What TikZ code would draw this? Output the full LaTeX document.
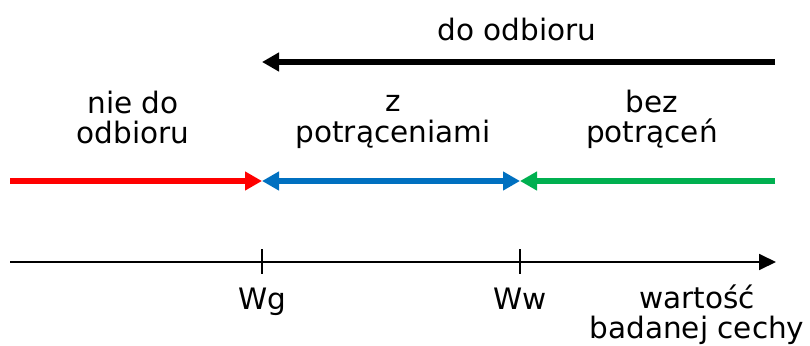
\documentclass[tikz,border=0pt]{standalone}
\usepackage{fontspec}
\setmainfont{DejaVu Sans}
\usetikzlibrary{arrows.meta}
\definecolor{myred}{RGB}{255,0,0}
\definecolor{myblue}{RGB}{0,112,192}
\definecolor{mygreen}{RGB}{0,176,80}
\tikzset{
  lbl/.style={align=center, font=\fontsize{29.5}{30}\selectfont, inner sep=0pt},
  thickarr/.style={line width=5.5pt, -{Triangle[length=17pt,width=18pt]}},
  bothtips/.style={line width=5.5pt, {Triangle[length=17pt,width=18pt]}-{Triangle[length=17pt,width=18pt]}},
  axis/.style={line width=1.8pt, -{Triangle[length=17pt,width=16pt]}},
  tick/.style={line width=1.8pt}
}
\begin{document}
\begin{tikzpicture}[x=1pt,y=-1pt]
\useasboundingbox (0,0) rectangle (810,345);
% coordinates
\coordinate (topR) at (775,62);
\coordinate (topL) at (262,62);
\coordinate (r0) at (10,181);
\coordinate (g1) at (262,181);
\coordinate (w1) at (520,181);
\coordinate (g2) at (775,181);
\coordinate (a0) at (10,262);
\coordinate (a1) at (776,262);
\coordinate (t1a) at (262,249);
\coordinate (t1b) at (262,274);
\coordinate (t2a) at (520,249);
\coordinate (t2b) at (520,274);
% texts
\node[lbl] (dood) at (517,30) {do odbioru};
\node[lbl] (nie) at (133,118) {nie do\\odbioru};
\node[lbl] (zpot) at (393,122) {z\\potrąceniami};
\node[lbl] (bez) at (652,119) {bez\\potrąceń};
\node[lbl, anchor=base] (wg) at (262,309) {Wg};
\node[lbl, anchor=base] (ww) at (520,309) {Ww};
\node[lbl] (wart) at (697,315) {wartość\\badanej cechy};
% arrows
\draw[thickarr, black] (topR) -- (topL);
\draw[thickarr, myred] (r0) -- (g1);
\draw[bothtips, myblue] (g1) -- (w1);
\draw[thickarr, mygreen] (g2) -- (w1);
\draw[axis] (a0) -- (a1);
\draw[tick] (t1a) -- (t1b);
\draw[tick] (t2a) -- (t2b);
\end{tikzpicture}
\end{document}
